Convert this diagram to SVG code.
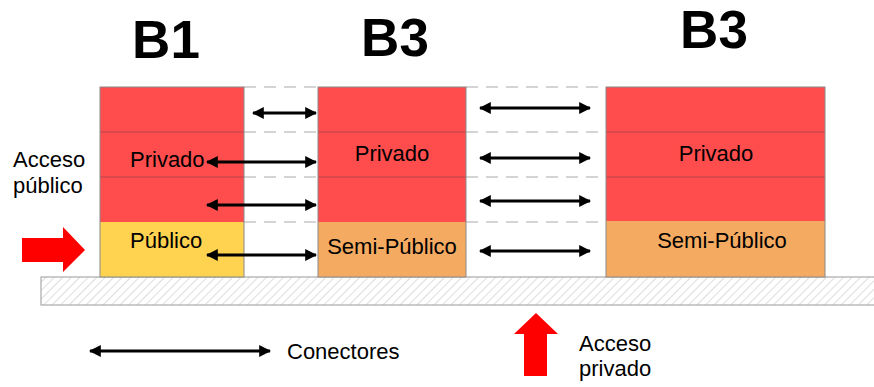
<svg xmlns="http://www.w3.org/2000/svg" width="874" height="387" viewBox="0 0 874 387">
<style>
text{font-family:"Liberation Sans","DejaVu Sans",sans-serif;fill:#000}
.t{font-size:53px;font-weight:bold}
.l{font-size:22px}
.red{fill:#FF4D4D}
.yel{fill:#FFD24F}
.ora{fill:#F4AA60}
.edge{fill:none;stroke:#8a8a8a;stroke-width:1}
.fl{stroke:#B8444A;stroke-width:1.2}
.dash{stroke:#aaa;stroke-width:1.2;stroke-dasharray:12 8}
.con{stroke:#000;stroke-width:3;marker-start:url(#ah);marker-end:url(#ah)}
</style>
<defs>
<marker id="ah" viewBox="0 0 10 10" refX="9" refY="5" markerWidth="4" markerHeight="4" orient="auto-start-reverse" markerUnits="strokeWidth">
<path d="M0,0 L10,5 L0,10 z" fill="#000"/>
</marker>
<pattern id="hatch" width="6" height="6" patternUnits="userSpaceOnUse" patternTransform="rotate(45)">
<line x1="0" y1="0" x2="0" y2="6" stroke="#bbb" stroke-width="1"/>
</pattern>
</defs>
<rect width="874" height="387" fill="#fff"/>
<g id="ground">
<rect x="41" y="277" width="840" height="28" fill="url(#hatch)" stroke="#aaa" stroke-width="1.2"/>
</g>
<g id="gaps">
<line class="dash" x1="244" y1="87" x2="318" y2="87"/>
<line class="dash" x1="244" y1="132" x2="318" y2="132"/>
<line class="dash" x1="244" y1="177" x2="318" y2="177"/>
<line class="dash" x1="244" y1="222" x2="318" y2="222"/>
<line class="dash" x1="466" y1="87" x2="606" y2="87"/>
<line class="dash" x1="466" y1="132" x2="606" y2="132"/>
<line class="dash" x1="466" y1="177" x2="606" y2="177"/>
<line class="dash" x1="466" y1="222" x2="606" y2="222"/>
</g>
<g id="b1">
<rect class="red" x="100" y="87" width="144" height="135"/>
<rect class="yel" x="100" y="222" width="144" height="55"/>
<line class="fl" x1="100" y1="132" x2="244" y2="132"/>
<line class="fl" x1="100" y1="177" x2="244" y2="177"/>
<rect class="edge" x="100" y="87" width="144" height="190"/>
<text class="t" x="166" y="58" text-anchor="middle">B1</text>
<text class="l" x="130" y="167">Privado</text>
<text class="l" x="130" y="248">Público</text>
</g>
<g id="b2">
<rect class="red" x="318" y="87" width="148" height="135"/>
<rect class="ora" x="318" y="222" width="148" height="55"/>
<line class="fl" x1="318" y1="132" x2="466" y2="132"/>
<line class="fl" x1="318" y1="177" x2="466" y2="177"/>
<rect class="edge" x="318" y="87" width="148" height="190"/>
<text class="t" x="395" y="56" text-anchor="middle">B3</text>
<text class="l" x="392" y="161" text-anchor="middle">Privado</text>
<text class="l" x="392" y="254" text-anchor="middle">Semi-Público</text>
</g>
<g id="b3">
<rect class="red" x="606" y="87" width="219" height="134"/>
<rect class="ora" x="606" y="221" width="219" height="56"/>
<line class="fl" x1="606" y1="132" x2="825" y2="132"/>
<line class="fl" x1="606" y1="177" x2="825" y2="177"/>
<rect class="edge" x="606" y="87" width="219" height="190"/>
<text class="t" x="714" y="48" text-anchor="middle">B3</text>
<text class="l" x="716" y="161" text-anchor="middle">Privado</text>
<text class="l" x="722" y="248" text-anchor="middle">Semi-Público</text>
</g>
<g id="connectors">
<line class="con" x1="253" y1="113" x2="316" y2="113"/>
<line class="con" x1="207" y1="162" x2="316" y2="162"/>
<line class="con" x1="207" y1="205" x2="316" y2="205"/>
<line class="con" x1="207" y1="255" x2="316" y2="255"/>
<line class="con" x1="480" y1="108" x2="590" y2="108"/>
<line class="con" x1="480" y1="158" x2="590" y2="158"/>
<line class="con" x1="480" y1="201" x2="590" y2="201"/>
<line class="con" x1="480" y1="251" x2="590" y2="251"/>
</g>
<g id="public-access">
<path d="M22,238 H63 V227 L85,250 L63,272 V262 H22 z" fill="#FF0000"/>
<text class="l" x="13" y="167">Acceso</text>
<text class="l" x="13" y="193">público</text>
</g>
<g id="private-access">
<path d="M536,313 L558,334 H547 V376 H524 V334 H514 z" fill="#FF0000"/>
<text class="l" x="579" y="351">Acceso</text>
<text class="l" x="579" y="376">privado</text>
</g>
<g id="legend">
<line class="con" x1="90" y1="351" x2="270" y2="351"/>
<text class="l" x="287" y="359">Conectores</text>
</g>
</svg>
